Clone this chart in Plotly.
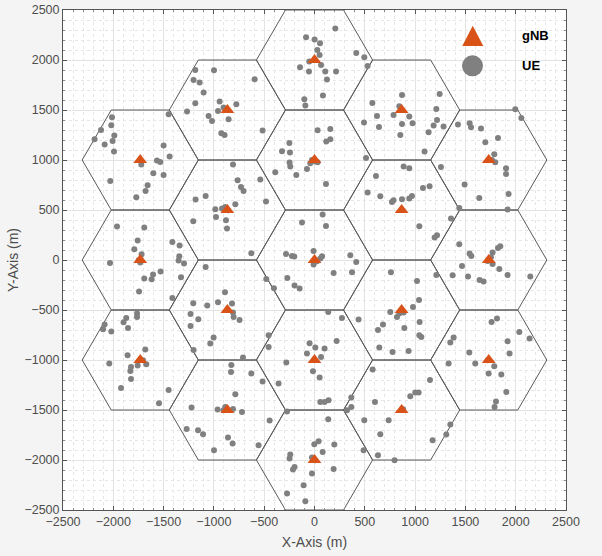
import numpy as np
import plotly.graph_objects as go

# gNB (cell centre) positions, metres
gnb_x = [0, 0, 0, 0, 0, -866, -866, -866, -866, 866, 866, 866, 866, -1732, -1732, -1732, 1732, 1732, 1732]
gnb_y = [2000, 1000, 0, -1000, -2000, 1500, 500, -500, -1500, 1500, 500, -500, -1500, 1000, 0, -1000, 1000, 0, -1000]
cell_radius = 577.35  # hexagon circumradius (m)

# UE positions, metres
ue_x = [-1185, -999, -1202, -1142, -1102, -943, -1185, -1267, -904, -959, -1053, -1019, -854, -926, -894, -810,
        -1450, -2013, -2020, -2122, -1990, -2186, -2007, -2086, -1993, -1500, -1440, -1566, -1533, -1722, -1602, -1500,
        207, -84, 1, 55, 28, 51, -52, 65, -144, -55, 107, 214, 124, 415, 495, 528, -595, 84, -101, -91, -777, -516,
        31, 157, 157, 117, -250, -323, -244, -248, -25, 8, 31, -42, -241, -75, -390, -181, 512, 611, 575, 621, 641,
        492, 786, 870, 853, 843,
        1244, 870, 1211, 942, 1218, 1184, 1283, 975, 1134, 1094, 886, 942, 1257, 1426, 1542, 1556, 1655, 1824, 1698,
        1787, 1996, 2056, 1764, 1797, 1904, 1904,
        -2030, -1659, -1679, -1771, -1182, -1082, -986, -919, -887, -860, -979, -880, -870, -1205, -1963, -1692, -1758,
        -1791, -1719, -1748, -1732, -2033, -1413, -1341, -1344, -1351, -1297, -1530, -1605, -1692, -1619, -1327, -1744,
        -1413, -1082, -890, -959, -1066, -1205, -820, -1232, -1155, -1232, -810, -804, -1003, -1036, -1764, -1764,
        -1871, -1898, -1854, -2086, -2102, -2020,
        -764, -731, -705, -539, -482, -787, 114, 81, 114, -124, 528, 654, 770, 786, -9, 75, 58, 25, -9, -283, -224,
        -201, -628, 356, 415, 190, 373, -270, -479, -403, -198, -148, 760, -745, 137, 273, 438, 753, 820, 843, 681,
        631, -456, -49, 220,
        1078, 1144, 969, 942, 870, 1492, 1929, 1638, 1439, 1919, 1357, 1042, 1218, 1194, 1439, 1542, 1559, 1847, 1824,
        1770, 1754, 1721, 1770, 1837, 1919, 2145, 1466, 1373, 1526, 1641, 1681, 1211, 1019, 1039, 979, 886, 1045, 893,
        1042, 1062, 1814, 1760, 2036, 2138, 1919, 1383, 1350,
        -1202, -1682, -1858, -1705, -1672, -1758, -1824, -1831, -2040, -1824, -1923, -1450, -1546, -827, -830, -787,
        -1222, -963, -887, -904, -810, -1271, -1158, -1108, -860, -814, -999,
        -456, 8, 100, -75, 65, -280, -15, 51, -711, -628, -516, -357, 58, 100, 140, 366, 366, 323, -273, -721, -446,
        137, -556, 41, -2, 81, 197, -241, -248, -25, 8, -198, -214, 190, -25, -108, -273, -91, 644, 776, 578, 601, 495,
        737, 654, 488, 631, 796, 880,
        935, 1539, 1939, 1333, 1598, 1721, 1787, 1731, 1857, 1907, 1804, 1790, 1148, 1002, 1035, 952, 1350, 1310, 1174]
ue_y = [1900, 1897, 1800, 1774, 1674, 1584, 1567, 1484, 1524, 1490, 1440, 1390, 1407, 1267, 1250, 954,
        1457, 1427, 1347, 1300, 1244, 1207, 1190, 1154, 1084, 1144, 1034, 994, 980, 954, 867, 850,
        2314, 2227, 2204, 2167, 2100, 2050, 1984, 1950, 1927, 1884, 1884, 1884, 1804, 2070, 2027, 1940, 1807, 1644,
        1607, 1544, 1557, 1294, 1297, 1310, 1207, 1184, 1170, 1087, 1074, 974, 1000, 984, 977, 967, 934, 910, 877, 850,
        1020, 840, 1570, 1440, 1330, 1374, 1450, 1360, 1250, 1537,
        1660, 1650, 1510, 1434, 1400, 1344, 1334, 1367, 1277, 1084, 934, 917, 930, 1354, 1367, 1327, 1314, 1220, 1177,
        1057, 1507, 1420, 1000, 977, 917, 860,
        790, 747, 690, 627, 604, 640, 507, 514, 530, 497, 430, 397, 314, 387, 334, 324, 194,
        107, 57, -3, -26, -30, 180, 144, 37, -6, -36, -116, -146, -186, -193, -173, -316,
        -380, -70, -323, -423, -456, -433, -436, -540, -593, -660, -526, -570, -776, -836, -536, -570,
        -580, -623, -680, -646, -693, -716,
        797, 730, 690, 804, 584, 557, 760, 454, 340, 374, 674, 637, 580, 597, 90, 37, 14, -13, -46, 60, 40,
        34, 67, 47, -20, -130, -123, -180, -190, -283, -256, -286, -123, -600, -520, -580, -596, -520, -570, -536, -646,
        -700, -753, -833, -810,
        720, 737, 640, 614, 607, 754, 660, 620, 520, 504, 414, 337, 247, 224, 157, 64, 40, 137, 120,
        74, 27, -10, -40, -90, -150, -166, -60, -153, -166, -200, -216, -150, -210, -400, -470, -526, -620, -680,
        -753, -770, -586, -620, -720, -786, -813, -776, -826,
        -900, -896, -953, -1003, -1043, -1056, -1070, -1110, -1036, -1190, -1280, -1300, -1433, -1050, -1120, -1343,
        -1476, -1496, -1470, -1503, -1490, -1690, -1703, -1743, -1776, -1836, -1903,
        -870, -876, -886, -936, -970, -1026, -1113, -1176, -976, -1136, -1216, -1236, -1420, -1420, -1403, -1376, -1470,
        -1503, -1516, -1520, -1606, -1593, -1853, -1813, -1843, -1920, -1846, -1946, -1986, -1976, -2003, -2070, -2096,
        -2090, -2136, -2253, -2336, -2413, -876, -920, -1096, -1420, -1603, -1603, -1743, -1903, -1953, -2003, -1493,
        -910, -926, -936, -1036, -1036, -1003, -1063, -1136, -1146, -1320, -1416, -1470, -1200, -1326, -1326, -1363,
        -1646, -1746, -1803]

axis_ticks = [-2500, -2000, -1500, -1000, -500, 0, 500, 1000, 1500, 2000, 2500]

# hexagon outlines from the cell centres
angles = np.deg2rad(np.arange(0, 361, 60))
hx, hy = [], []
for cx, cy in zip(gnb_x, gnb_y):
    hx += list(cx + cell_radius * np.cos(angles)) + [None]
    hy += list(cy + cell_radius * np.sin(angles)) + [None]

fig = go.Figure()
fig.add_trace(go.Scatter(x=hx, y=hy, mode="lines", line=dict(color="#5a5a5a", width=1),
                         hoverinfo="skip", showlegend=False))
fig.add_trace(go.Scatter(x=ue_x, y=ue_y, mode="markers", name="UE",
                         marker=dict(color="#808080", size=6, line=dict(width=0)), showlegend=False))
fig.add_trace(go.Scatter(x=gnb_x, y=gnb_y, mode="markers", name="gNB",
                         marker=dict(color="#D95319", size=12, symbol="triangle-up", line=dict(width=0)),
                         showlegend=False))

axis_common = dict(
    range=[-2500, 2500], tickvals=axis_ticks, ticks="inside", ticklen=4, tickcolor="#555555",
    showline=True, linecolor="#555555", linewidth=1, mirror="allticks",
    showgrid=True, gridcolor="#e3e3e3", gridwidth=1, zeroline=False,
    tickfont=dict(family="Arial, Liberation Sans, sans-serif", size=12.5, color="#4d4d4d"),
    minor=dict(dtick=100, ticks="inside", ticklen=2, tickcolor="#888888", showgrid=True,
               gridcolor="#e6e6e6", griddash="dot", gridwidth=1),
)
fig.update_xaxes(**axis_common,
                 title=dict(text="X-Axis (m)", standoff=9,
                            font=dict(family="Arial, Liberation Sans, sans-serif", size=14, color="#4d4d4d")))
fig.update_yaxes(**axis_common,
                 title=dict(text="Y-Axis (m)", standoff=2,
                            font=dict(family="Arial, Liberation Sans, sans-serif", size=14, color="#4d4d4d")))

# legend glyphs drawn in paper coordinates
fig.add_shape(type="path", xref="paper", yref="paper",
              path="M 0.8146 0.9684 L 0.7938 0.9280 L 0.8356 0.9280 Z",
              fillcolor="#D95319", line=dict(width=0))
fig.add_shape(type="circle", xref="paper", yref="paper", x0=0.7932, x1=0.8350, y0=0.8674, y1=0.9094,
              fillcolor="#808080", line=dict(width=0))
for label, yy in [("gNB", 0.9484), ("UE", 0.8894)]:
    fig.add_annotation(text="<b>%s</b>" % label, xref="paper", yref="paper", x=0.9085, y=yy,
                       xanchor="left", yanchor="middle", showarrow=False,
                       font=dict(family="Arial, Liberation Sans, sans-serif", size=13, color="#000000"))

fig.update_layout(
    width=602, height=556,
    margin=dict(l=63, r=36, t=10, b=46, autoexpand=False),
    paper_bgcolor="#f4f4f4", plot_bgcolor="#ffffff",
    showlegend=False,
)
fig.write_html("out.html")
